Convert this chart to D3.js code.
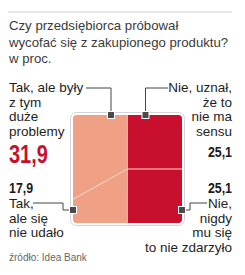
<!DOCTYPE html>
<html>
<head>
<meta charset="utf-8">
<script src="https://cdn.jsdelivr.net/npm/d3@7"></script>
<style>
  body { margin: 0; background: #fff; }
  text { font-family: "Liberation Sans", Arial, sans-serif; }
  .num { font-weight: bold; }
</style>
</head>
<body>
<script>
const width = 245;
const height = 275;

// data
const answers = ['Tak, ale były z tym duże problemy', 'Nie, uznał, że to nie ma sensu', 'Tak, ale się nie udało', 'Nie, nigdy mu się to nie zdarzyło'];
const groups = ['Tak', 'Nie', 'Tak', 'Nie'];
const values = [31.9, 25.1, 17.9, 25.1];
const valueLabels = ['31,9', '25,1', '17,9', '25,1'];
const labelLines = [
    ['Tak, ale były', 'z tym', 'duże', 'problemy'],
    ['Nie, uznał,', 'że to', 'nie ma', 'sensu'],
    ['Tak,', 'ale się', 'nie udało'],
    ['Nie,', 'nigdy', 'mu się', 'to nie zdarzyło']
];
const titleLines = ['Czy przedsiębiorca próbował', 'wycofać się z zakupionego produktu?', 'w proc.'];
const source = 'źródło: Idea Bank';

const svg = d3.select('body').append('svg')
    .attr('width', width)
    .attr('height', height);

// title
svg.append('line')
    .attr('x1', 8).attr('x2', 232).attr('y1', 12).attr('y2', 12)
    .attr('stroke', '#cfcfcf').attr('stroke-width', 1);

svg.selectAll('.title')
    .data(titleLines)
    .enter().append('text')
    .attr('class', 'title')
    .attr('x', 9)
    .attr('y', (d, i) => 30 + i * 16.5)
    .attr('font-size', 13.2)
    .attr('fill', '#3a3a3a')
    .text(d => d);

// box
const box = { x0: 73, x1: 182, y0: 115, y1: 223 };

const total = d3.sum(values);
const takSum = d3.sum(values.filter((v, i) => groups[i] === 'Tak'));
const nieSum = total - takSum;

const x = d3.scaleLinear().domain([0, total]).range([box.x0, box.x1]);
const y = d3.scaleLinear().domain([0, 1]).range([box.y0, box.y1]);
const xm = x(takSum);

// right column split (horizontal)
const fRight = values[1] / nieSum;
// left column split: slanted line so the top trapezoid keeps its share
const rLeft = values[0] / takSum;
const fLeft = 2 * rLeft - fRight;

svg.append('defs').append('clipPath').attr('id', 'clip')
    .append('rect')
    .attr('x', box.x0).attr('y', box.y0)
    .attr('width', box.x1 - box.x0).attr('height', box.y1 - box.y0)
    .attr('rx', 4);

svg.append('rect')
    .attr('x', box.x0 - 2.5).attr('y', box.y0 - 2.5)
    .attr('width', box.x1 - box.x0 + 5).attr('height', box.y1 - box.y0 + 5)
    .attr('rx', 6)
    .attr('fill', '#fff')
    .attr('stroke', '#d4d4d4');

const color = d3.scaleOrdinal().domain(['Tak', 'Nie']).range(['#f0a185', '#c8102e']);

const g = svg.append('g').attr('clip-path', 'url(#clip)');

const shapes = [
    [[box.x0, y(0)], [xm, y(0)], [xm, y(fRight)], [box.x0, y(fLeft)]],
    [[xm, y(0)], [box.x1, y(0)], [box.x1, y(fRight)], [xm, y(fRight)]],
    [[box.x0, y(fLeft)], [xm, y(fRight)], [xm, y(1)], [box.x0, y(1)]],
    [[xm, y(fRight)], [box.x1, y(fRight)], [box.x1, y(1)], [xm, y(1)]]
];

g.selectAll('path')
    .data(shapes)
    .enter().append('path')
    .attr('d', d => d3.line()(d) + 'Z')
    .attr('fill', (d, i) => color(groups[i]))
    .attr('stroke', (d, i) => color(groups[i]))
    .attr('stroke-width', 0.5);

// dividers
const divider = '#fcd9cf';
g.append('line').attr('x1', xm).attr('x2', xm).attr('y1', y(0)).attr('y2', y(1))
    .attr('stroke', divider).attr('stroke-width', 1);
g.append('line').attr('x1', xm).attr('x2', box.x1).attr('y1', y(fRight)).attr('y2', y(fRight))
    .attr('stroke', divider).attr('stroke-width', 1);
g.append('line').attr('x1', box.x0).attr('x2', xm).attr('y1', y(fLeft)).attr('y2', y(fRight))
    .attr('stroke', divider).attr('stroke-width', 1);

// leader lines and markers
const leaders = [
    [[86, 88], [111, 88], [111, box.y0]],
    [[145.5, box.y0], [145.5, 88], [168, 88]],
    [[33, 203], [63, 203], [63, 210], [box.x0, 210]],
    [[box.x1, 210], [190, 210], [190, 203], [207, 203]]
];
const markers = [[111, box.y0], [145.5, box.y0], [box.x0, 210], [box.x1, 210]];

svg.selectAll('.leader')
    .data(leaders)
    .enter().append('path')
    .attr('class', 'leader')
    .attr('d', d => d3.line()(d))
    .attr('fill', 'none')
    .attr('stroke', '#444')
    .attr('stroke-width', 1);

svg.selectAll('.marker')
    .data(markers)
    .enter().append('rect')
    .attr('class', 'marker')
    .attr('x', d => d[0] - 3.5).attr('y', d => d[1] - 3.5)
    .attr('width', 7).attr('height', 7)
    .attr('fill', '#4a4a4a')
    .attr('stroke', '#fff')
    .attr('stroke-width', 1);

// labels
const labelPos = [
    { x: 9, y: 92, anchor: 'start', numY: 163, numSize: 25, numColor: '#c8102e' },
    { x: 232, y: 92, anchor: 'end', numY: 157, numSize: 15.5, numColor: '#1a1a1a' },
    { x: 9, y: 208, anchor: 'start', numY: 193, numSize: 15.5, numColor: '#1a1a1a' },
    { x: 232, y: 208, anchor: 'end', numY: 193, numSize: 15.5, numColor: '#1a1a1a' }
];

labelLines.forEach((lines, i) => {
    const p = labelPos[i];
    svg.append('g').selectAll('text')
        .data(lines)
        .enter().append('text')
        .attr('x', p.x)
        .attr('y', (d, j) => p.y + j * 14.5)
        .attr('text-anchor', p.anchor)
        .attr('font-size', 13.5)
        .attr('fill', '#1e1e1e')
        .text(d => d);
    // condensed bold numbers
    svg.append('text')
        .attr('class', 'num')
        .attr('transform', `translate(${p.x},${p.numY}) scale(0.8,1)`)
        .attr('text-anchor', p.anchor)
        .attr('font-size', p.numSize)
        .attr('fill', p.numColor)
        .text(valueLabels[i]);
});

svg.append('text')
    .attr('x', 9)
    .attr('y', 261)
    .attr('font-size', 10)
    .attr('fill', '#666')
    .text(source);
</script>
</body>
</html>
